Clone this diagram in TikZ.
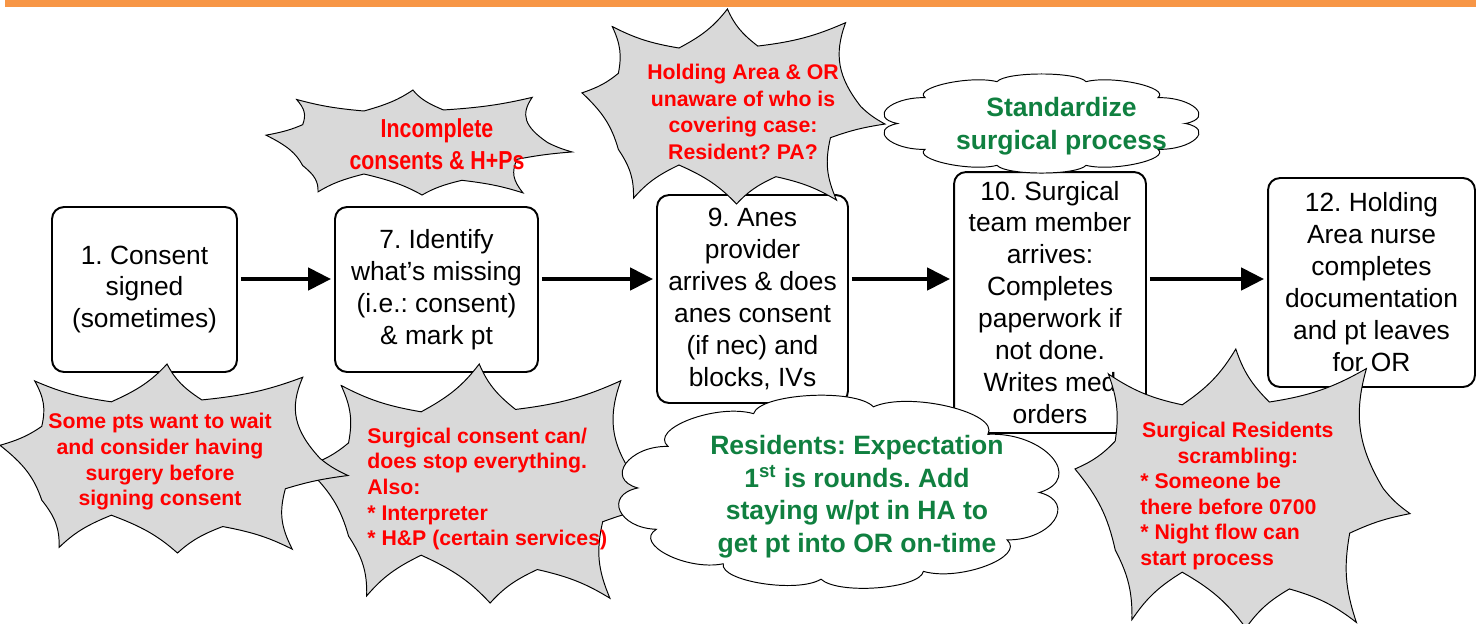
\documentclass[tikz,border=0pt]{standalone}
\usepackage{fontspec}
\setmainfont{Liberation Sans}
\newfontfamily\narrowfont[FakeStretch=0.82]{Liberation Sans}
\usetikzlibrary{arrows.meta}
\frenchspacing
\definecolor{barorange}{RGB}{247,150,70}
\definecolor{burstgray}{RGB}{217,217,217}
\definecolor{notegreen}{RGB}{16,128,64}
\newcommand\boxfont{\fontsize{15pt}{18.2pt}\selectfont}
\newcommand\redfont{\bfseries\fontsize{12.1pt}{14.6pt}\selectfont}
\newcommand\redfontB{\bfseries\fontsize{12.1pt}{15.2pt}\selectfont}
\newcommand\greenfont{\bfseries\fontsize{15.1pt}{18.5pt}\selectfont}
\newcommand\narrowredfont{\narrowfont\bfseries\fontsize{14.8pt}{18.2pt}\selectfont}
\tikzset{
  boxn/.style={draw, line width=1.1pt, rounded corners=0.24cm, align=center, font=\boxfont, inner sep=0pt},
  burst/.style={draw=black, line width=0.55pt, fill=burstgray},
  redtxt/.style={text=red, font=\redfont, inner sep=0pt},
  greentxt/.style={text=notegreen, font=\greenfont, align=center, inner sep=0pt},
  cloudline/.style={draw=black, line width=0.55pt, fill=white},
  flow/.style={line width=2.5pt, -{Triangle[length=13pt,width=12.5pt]}, shorten <=0.06cm, shorten >=0.06cm}
}
\newcommand\burstshape[4]{%
  \begin{scope}[shift={(#1,#2)},xscale=#3,yscale=#4]
    \draw[burst] (0.10,0.09) to[bend right=12] (0.32,0.20) to[bend right=12] (0.48,0)
      to[bend right=12] (0.58,0.19) to[bend right=12] (0.87,0.07) to[bend right=20] (0.92,0.50)
      to[bend right=8] (1,0.59) to[bend right=8] (0.82,0.66) to[bend right=12] (0.84,0.98)
      to[bend right=12] (0.64,0.86) to[bend right=12] (0.51,1) to[bend right=12] (0.32,0.80)
      to[bend right=12] (0.17,0.97) to[bend right=12] (0.12,0.72) to[bend right=12] (0,0.43)
      to[bend right=12] (0.12,0.33) to[bend right=12] cycle;
  \end{scope}}
\newcommand\puffcloudA[4]{%
  \begin{scope}[shift={(#1,#2)},xscale=#3,yscale=#4]
    \draw[cloudline] (0:1) to[bend left=75] (33:1) to[bend left=75] (65:1) to[bend left=75] (95:1)
      to[bend left=75] (125:1) to[bend left=75] (155:1) to[bend left=75] (183:1) to[bend left=75] (212:1)
      to[bend left=75] (245:1) to[bend left=75] (280:1) to[bend left=75] (318:1) to[bend left=75] cycle;
  \end{scope}}
\newcommand\puffcloudB[4]{%
  \begin{scope}[shift={(#1,#2)},xscale=#3,yscale=#4]
    \draw[cloudline] (0:1) to[bend left=75] (36:1) to[bend left=75] (72:1) to[bend left=75] (108:1)
      to[bend left=75] (144:1) to[bend left=75] (180:1) to[bend left=75] (216:1) to[bend left=75] (252:1)
      to[bend left=75] (288:1) to[bend left=75] (324:1) to[bend left=75] cycle;
  \end{scope}}
\begin{document}
\begin{tikzpicture}[x=0.02cm,y=-0.02cm]
\useasboundingbox (0,0) rectangle (1476,623);
\fill[barorange] (5,0) rectangle (1476,7);
% process boxes
\node[boxn, minimum width=3.70cm, minimum height=3.30cm] (b1) at (144.5,289.5) {1. Consent\\signed\\(sometimes)};
\node[boxn, minimum width=4.06cm, minimum height=3.30cm] (b7) at (436.5,289.5) {7. Identify\\what’s missing\\(i.e.: consent)\\\& mark pt};
\node[boxn, minimum width=3.82cm, minimum height=4.16cm] (b9) at (752.5,299) {9. Anes\\provider\\arrives \& does\\anes consent\\(if nec) and\\blocks, IVs};
\node[boxn, minimum width=3.84cm, minimum height=5.22cm] (b10) at (1050,302.5) {10. Surgical\\team member\\arrives:\\Completes\\paperwork if\\not done.\\Writes med\\orders};
\node[boxn, minimum width=4.14cm, minimum height=4.18cm] (b12) at (1371.5,282.5) {12. Holding\\Area nurse\\completes\\documentation\\and pt leaves\\for OR};
% connectors
\coordinate (ay) at (0,279);
\draw[flow] (b1.east |- ay) -- (b7.west |- ay);
\draw[flow] (b7.east |- ay) -- (b9.west |- ay);
\draw[flow] (b9.east |- ay) -- (b10.west |- ay);
\draw[flow] (b10.east |- ay) -- (b12.west |- ay);
% starbursts
\burstshape{305}{364}{363}{239}
\burstshape{0}{364}{348}{189}
\burstshape{266}{90}{306}{105}
\burstshape{582}{9}{303}{195}
\burstshape{1075}{349}{335}{279}
\node[redtxt, align=center] (s1t) at (160,462) {Some pts want to wait\\and consider having\\surgery before\\signing consent};
\node[redtxt, align=left, anchor=west] (s7bt) at (367,489) {Surgical consent can/\\does stop everything.\\Also:\\* Interpreter\\* H\&P (certain services)};
\node[text=red, font=\narrowredfont, align=center, inner sep=0pt] (s7tt) at (437,144) {Incomplete\\consents \& H+Ps};
\node[redtxt, font=\redfontB, align=center] (s9t) at (743,112) {Holding Area \& OR\\unaware of who is\\covering case:\\Resident? PA?};
\node[redtxt, align=left, anchor=west] (s12t) at (1140,496) {\makebox[111pt][c]{Surgical Residents}\\\makebox[111pt][c]{scrambling:}\\* Someone be\\there before 0700\\* Night flow can\\start process};
% clouds
\puffcloudA{838.5}{492.5}{201}{87}
\puffcloudB{1041.5}{123.5}{144}{44}
\node[greentxt] (g1) at (857,496.5) {Residents: Expectation\\1\textsuperscript{st} is rounds. Add\\staying w/pt in HA to\\get pt into OR on-time};
\node[greentxt] (g2) at (1061.5,126) {Standardize\\surgical process};
\end{tikzpicture}
\end{document}
